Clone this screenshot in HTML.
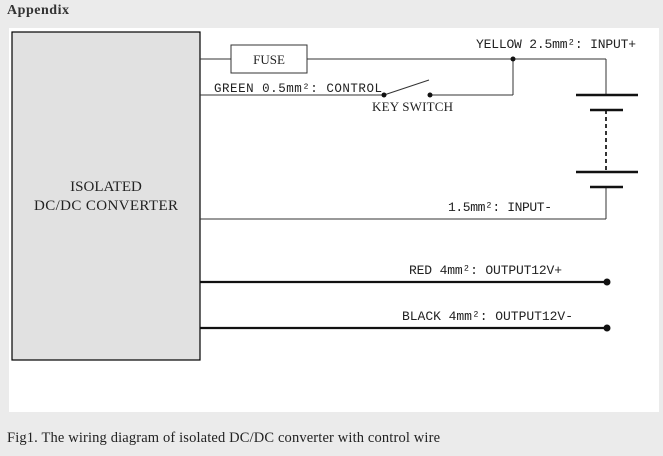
<!DOCTYPE html>
<html><head><style>
body{margin:0;width:663px;height:456px;background:#ebebeb;overflow:hidden;position:relative;font-family:"Liberation Serif",serif}
</style></head><body>
<svg width="663" height="456" style="position:absolute;left:0;top:0" font-family="Liberation Serif, serif">
<text x="7" y="14" font-size="14" font-weight="bold" fill="#333" textLength="62">Appendix</text>
<rect x="9" y="28" width="650" height="384" fill="#fff"/>
<rect x="12" y="32" width="188" height="328" fill="#e1e1e1" stroke="#000" stroke-width="1.2"/>
<text x="106" y="191" font-size="15" text-anchor="middle" fill="#222">ISOLATED</text>
<text x="106" y="210" font-size="15" text-anchor="middle" fill="#222" textLength="144">DC/DC CONVERTER</text>
<g stroke="#333" stroke-width="1" fill="none">
<line x1="200" y1="59" x2="231" y2="59"/>
<rect x="231" y="45" width="76" height="28" fill="#fff"/>
<line x1="307" y1="59" x2="606" y2="59"/>
<line x1="606" y1="59" x2="606" y2="95"/>
<line x1="513" y1="59" x2="513" y2="95"/>
<line x1="430" y1="95" x2="513" y2="95"/>
<line x1="200" y1="95" x2="384" y2="95"/>
<line x1="384" y1="95" x2="429" y2="80"/>
<line x1="606" y1="187" x2="606" y2="219"/>
<line x1="200" y1="219" x2="606" y2="219"/>
<line x1="606" y1="110" x2="606" y2="172" stroke-dasharray="4,3" stroke-width="2"/>
</g>
<g stroke="#111" stroke-width="2.5">
<line x1="576" y1="95" x2="638" y2="95"/>
<line x1="590" y1="110" x2="623" y2="110"/>
<line x1="576" y1="172" x2="638" y2="172"/>
<line x1="590" y1="187" x2="623" y2="187"/>
<line x1="200" y1="282" x2="606" y2="282" stroke-width="2.2"/>
<line x1="200" y1="328" x2="606" y2="328" stroke-width="2.2"/>
</g>
<g fill="#111">
<circle cx="513" cy="59" r="2.5"/><circle cx="384" cy="95" r="2.5"/><circle cx="430" cy="95" r="2.5"/>
<circle cx="607" cy="282" r="3.5"/><circle cx="607" cy="328" r="3.5"/>
</g>
<g font-size="13" fill="#222">
<text x="269" y="64" text-anchor="middle">FUSE</text>
<text x="476" y="48" font-family="Liberation Mono, monospace" font-size="13" textLength="160">YELLOW 2.5mm²: INPUT+</text>
<text x="214" y="92" font-family="Liberation Mono, monospace" font-size="12.5" textLength="168">GREEN  0.5mm²: CONTROL</text>
<text x="372" y="111" textLength="81">KEY SWITCH</text>
<text x="448" y="211" font-family="Liberation Mono, monospace" font-size="13" textLength="104">1.5mm²: INPUT-</text>
<text x="409" y="274" font-family="Liberation Mono, monospace" font-size="13" textLength="153">RED 4mm²: OUTPUT12V+</text>
<text x="402" y="320" font-family="Liberation Mono, monospace" font-size="13" textLength="171">BLACK 4mm²: OUTPUT12V-</text>
</g>
<text x="7" y="442" font-size="14.5" fill="#222" textLength="433">Fig1. The wiring diagram of isolated DC/DC converter with control wire</text>
</svg>
</body></html>
